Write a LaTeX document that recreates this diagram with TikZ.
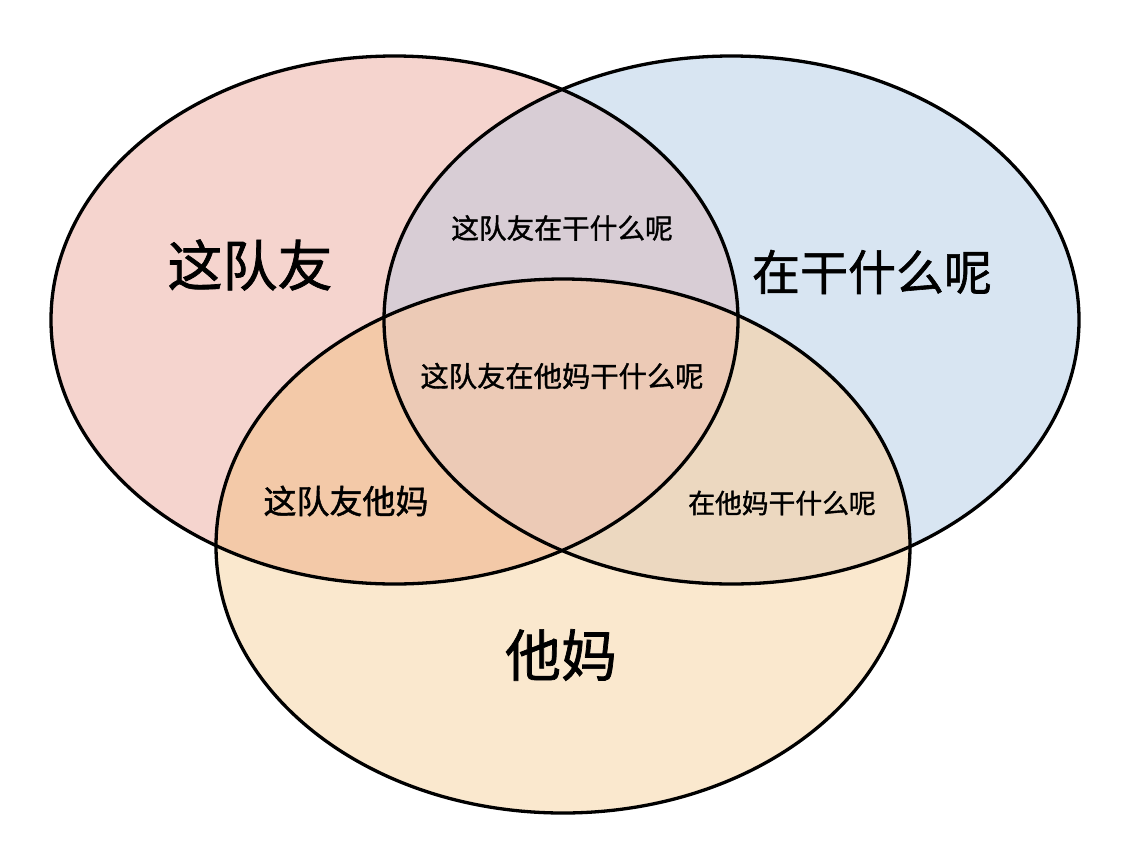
\documentclass[tikz,border=0pt]{standalone}
\usepackage{fontspec}
\newfontfamily\cjk[FakeBold=1.3]{Noto Sans CJK SC}
\definecolor{cP}{HTML}{F5D4CE}
\definecolor{cB}{HTML}{D8E5F2}
\definecolor{cO}{HTML}{FAE8CE}
\definecolor{cPB}{HTML}{D8CDD5}
\definecolor{cPO}{HTML}{F3C9A8}
\definecolor{cBO}{HTML}{ECD8C0}
\definecolor{cPBO}{HTML}{ECCAB6}
\tikzset{
  outline/.style={draw=black, line width=3.3pt},
  bigtxt/.style={font=\cjk\fontsize{#1}{#1}\selectfont, text=black, inner sep=0pt, anchor=center},
}
\newcommand{\pinkE}{(394.5,320) ellipse [x radius=343.5pt, y radius=264pt]}
\newcommand{\blueE}{(731.5,320) ellipse [x radius=347.5pt, y radius=264pt]}
\newcommand{\orangeE}{(563,546) ellipse [x radius=347pt, y radius=267pt]}
\begin{document}
\begin{tikzpicture}[x=1pt,y=-1pt]
\useasboundingbox (0,0) rectangle (1124,844);
\fill[white] (0,0) rectangle (1124,844);
% single fills
\fill[cP] \pinkE;
\fill[cB] \blueE;
\fill[cO] \orangeE;
% pairwise
\begin{scope}
  \clip \pinkE;
  \fill[cPB] \blueE;
  \fill[cPO] \orangeE;
\end{scope}
\begin{scope}
  \clip \blueE;
  \fill[cBO] \orangeE;
\end{scope}
\begin{scope}
  \clip \pinkE;
  \clip \blueE;
  \fill[cPBO] \orangeE;
\end{scope}
% outlines
\draw[outline] \pinkE;
\draw[outline] \blueE;
\draw[outline] \orangeE;
% labels
\node[bigtxt=55] (tA) at (250,265) {这队友};
\node[bigtxt=48] (tB) at (872,272) {在干什么呢};
\node[bigtxt=56] (tC) at (561,655) {他妈};
\node[bigtxt=27.7] (tAB) at (562,228) {这队友在干什么呢};
\node[bigtxt=28.3] (tABC) at (562,376) {这队友在他妈干什么呢};
\node[bigtxt=33] (tAC) at (346,501) {这队友他妈};
\node[bigtxt=26.8] (tBC) at (782,503) {在他妈干什么呢};
\end{tikzpicture}
\end{document}
